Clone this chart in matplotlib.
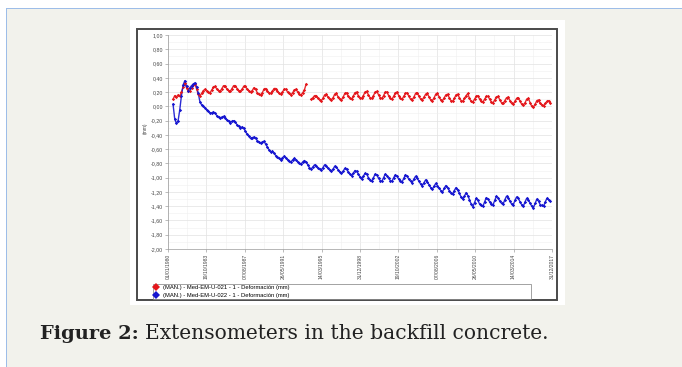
import matplotlib
matplotlib.use("Agg")
import matplotlib.pyplot as plt
import matplotlib.dates as mdates
from matplotlib.patches import Rectangle
from matplotlib.ticker import FixedLocator, MultipleLocator, FuncFormatter
import numpy as np
import pandas as pd

# ---- data (one value every two months) ----
dates = pd.date_range("1980-07-01", "2017-11-01", freq="2MS")

red_021 = [
    0.10, 0.15, 0.13,                          # 1980
    0.16, 0.14, 0.20, 0.27, 0.33, 0.26,        # 1981
    0.21, 0.22, 0.26, 0.30, 0.32, 0.24,        # 1982
    0.17, 0.15, 0.18, 0.22, 0.24, 0.21,        # 1983
    0.20, 0.19, 0.23, 0.27, 0.28, 0.24,        # 1984
    0.22, 0.21, 0.25, 0.29, 0.28, 0.24,        # 1985
    0.22, 0.21, 0.25, 0.29, 0.29, 0.25,        # 1986
    0.22, 0.21, 0.24, 0.28, 0.28, 0.24,        # 1987
    0.22, 0.20, 0.22, 0.26, 0.24, 0.19,        # 1988
    0.17, 0.16, 0.19, 0.24, 0.25, 0.21,        # 1989
    0.19, 0.18, 0.21, 0.25, 0.25, 0.21,        # 1990
    0.18, 0.17, 0.20, 0.24, 0.24, 0.20,        # 1991
    0.18, 0.16, 0.19, 0.23, 0.24, 0.20,        # 1992
    0.17, 0.16, 0.19, 0.23, 0.31, np.nan,      # 1993
    np.nan, 0.10, 0.12, 0.15, 0.15, 0.11,      # 1994
    0.09, 0.08, 0.11, 0.16, 0.17, 0.13,        # 1995
    0.10, 0.09, 0.12, 0.17, 0.18, 0.13,        # 1996
    0.10, 0.09, 0.13, 0.18, 0.19, 0.14,        # 1997
    0.11, 0.10, 0.14, 0.19, 0.20, 0.15,        # 1998
    0.12, 0.11, 0.15, 0.20, 0.21, 0.16,        # 1999
    0.12, 0.11, 0.15, 0.20, 0.21, 0.16,        # 2000
    0.12, 0.11, 0.15, 0.20, 0.20, 0.15,        # 2001
    0.11, 0.10, 0.14, 0.19, 0.20, 0.15,        # 2002
    0.11, 0.10, 0.14, 0.18, 0.19, 0.14,        # 2003
    0.10, 0.09, 0.13, 0.18, 0.19, 0.14,        # 2004
    0.10, 0.09, 0.13, 0.17, 0.18, 0.13,        # 2005
    0.09, 0.08, 0.12, 0.17, 0.18, 0.13,        # 2006
    0.09, 0.08, 0.12, 0.16, 0.17, 0.12,        # 2007
    0.08, 0.07, 0.11, 0.16, 0.17, 0.12,        # 2008
    0.08, 0.07, 0.11, 0.15, 0.18, 0.11,        # 2009
    0.07, 0.06, 0.10, 0.14, 0.15, 0.10,        # 2010
    0.07, 0.06, 0.10, 0.14, 0.14, 0.10,        # 2011
    0.06, 0.05, 0.09, 0.13, 0.14, 0.09,        # 2012
    0.05, 0.04, 0.08, 0.12, 0.13, 0.08,        # 2013
    0.04, 0.03, 0.07, 0.11, 0.12, 0.07,        # 2014
    0.03, 0.02, 0.05, 0.10, 0.11, 0.05,        # 2015
    0.00, -0.01, 0.03, 0.08, 0.09, 0.04,       # 2016
    0.02, 0.01, 0.04, 0.07, 0.08, 0.05,        # 2017
]

blue_022 = [
    0.03, -0.18, -0.24,                              # 1980
    -0.20, -0.05, 0.15, 0.30, 0.36, 0.28,            # 1981
    0.22, 0.26, 0.29, 0.31, 0.33, 0.27,              # 1982
    0.18, 0.06, 0.02, 0.00, -0.02, -0.05,            # 1983
    -0.07, -0.09, -0.09, -0.08, -0.10, -0.13,        # 1984
    -0.15, -0.17, -0.15, -0.14, -0.16, -0.19,        # 1985
    -0.21, -0.23, -0.21, -0.20, -0.22, -0.26,        # 1986
    -0.28, -0.30, -0.29, -0.31, -0.35, -0.39,        # 1987
    -0.42, -0.45, -0.44, -0.43, -0.45, -0.48,        # 1988
    -0.50, -0.52, -0.50, -0.49, -0.53, -0.57,        # 1989
    -0.61, -0.64, -0.63, -0.66, -0.69, -0.71,        # 1990
    -0.73, -0.75, -0.72, -0.70, -0.72, -0.75,        # 1991
    -0.77, -0.78, -0.75, -0.73, -0.75, -0.78,        # 1992
    -0.80, -0.81, -0.78, -0.76, -0.78, -0.82,        # 1993
    -0.86, -0.88, -0.85, -0.82, -0.83, -0.86,        # 1994
    -0.88, -0.89, -0.86, -0.82, -0.83, -0.87,        # 1995
    -0.89, -0.91, -0.88, -0.84, -0.85, -0.89,        # 1996
    -0.92, -0.94, -0.91, -0.87, -0.88, -0.92,        # 1997
    -0.95, -0.97, -0.94, -0.90, -0.91, -0.95,        # 1998
    -0.99, -1.02, -0.98, -0.94, -0.95, -1.00,        # 1999
    -1.03, -1.05, -1.00, -0.95, -0.96, -1.01,        # 2000
    -1.04, -1.05, -1.00, -0.95, -0.97, -1.01,        # 2001
    -1.04, -1.05, -1.00, -0.96, -0.98, -1.02,        # 2002
    -1.04, -1.06, -1.01, -0.96, -0.98, -1.02,        # 2003
    -1.05, -1.07, -1.02, -0.98, -1.01, -1.05,        # 2004
    -1.09, -1.11, -1.07, -1.03, -1.06, -1.10,        # 2005
    -1.14, -1.16, -1.12, -1.08, -1.11, -1.15,        # 2006
    -1.18, -1.20, -1.15, -1.11, -1.14, -1.18,        # 2007
    -1.21, -1.23, -1.18, -1.14, -1.17, -1.22,        # 2008
    -1.27, -1.30, -1.26, -1.21, -1.25, -1.31,        # 2009
    -1.37, -1.41, -1.35, -1.29, -1.32, -1.37,        # 2010
    -1.39, -1.40, -1.34, -1.28, -1.30, -1.34,        # 2011
    -1.37, -1.38, -1.32, -1.26, -1.28, -1.33,        # 2012
    -1.36, -1.37, -1.31, -1.26, -1.28, -1.33,        # 2013
    -1.37, -1.38, -1.32, -1.27, -1.29, -1.34,        # 2014
    -1.38, -1.40, -1.34, -1.29, -1.31, -1.36,        # 2015
    -1.40, -1.42, -1.36, -1.30, -1.33, -1.38,        # 2016
    -1.39, -1.40, -1.34, -1.29, -1.31, -1.33,        # 2017
]

series_labels = [
    "(MAN.) - Med-EM-U-021 - 1 - Deformación (mm)",
    "(MAN.) - Med-EM-U-022 - 1 - Deformación (mm)",
]
x_tick_labels = ["01/01/1980", "19/10/1983", "07/08/1987", "26/05/1991",
                 "14/03/1995", "31/12/1998", "19/10/2002", "07/08/2006",
                 "26/05/2010", "14/03/2014", "31/12/2017"]
y_min, y_max = -2.0, 1.0

W, H = 682, 367
BG = "#f2f2ec"
RED = "#e4161b"
BLUE = "#1515d0"

fig = plt.figure(figsize=(W / 100, H / 100), dpi=100)
fig.patch.set_facecolor("white")


def px_rect(x0, y0, x1, y1, **kw):
    """Rectangle given in image pixels (origin top-left)."""
    r = Rectangle((x0 / W, 1 - y1 / H), (x1 - x0) / W, (y1 - y0) / H,
                  transform=fig.transFigure, **kw)
    fig.patches.append(r)
    return r


# page background, blue rule, white panel, dark frame
px_rect(6, 8, W + 2, H + 2, facecolor=BG, edgecolor="none", zorder=0)
px_rect(6, 8, W + 2, 9.2, facecolor="#9dbde8", edgecolor="none", zorder=1)
px_rect(6, 8, 7.2, H + 2, facecolor="#9dbde8", edgecolor="none", zorder=1)
px_rect(130, 20, 565, 305, facecolor="white", edgecolor="none", zorder=1)
px_rect(137, 28.5, 556.5, 300, facecolor="white", edgecolor="#4a4a4a",
        linewidth=1.4, zorder=2)

ax = fig.add_axes([168 / W, 1 - 249 / H, 384 / W, 214 / H], zorder=3)
ax.set_facecolor("white")

tick_dates = pd.to_datetime(x_tick_labels, dayfirst=True)
ax.set_xlim(tick_dates[0], tick_dates[-1])
ax.set_ylim(y_min, y_max)

ax.xaxis.set_major_locator(FixedLocator(mdates.date2num(tick_dates)))
ax.set_xticklabels(x_tick_labels, rotation=90, fontsize=3.6, color="#444444",
                   family="Liberation Sans")
mid = mdates.date2num(tick_dates[:-1]) + np.diff(mdates.date2num(tick_dates)) / 2
ax.xaxis.set_minor_locator(FixedLocator(mid))
ax.yaxis.set_major_locator(MultipleLocator(0.2))
ax.yaxis.set_minor_locator(MultipleLocator(0.1))
ax.yaxis.set_major_formatter(FuncFormatter(lambda v, p: f"{v:.2f}".replace(".", ",")))
for lab in ax.get_yticklabels():
    lab.set_fontsize(3.8)
    lab.set_color("#444444")
    lab.set_family("Liberation Sans")
ax.tick_params(axis="both", which="major", length=2, width=0.4, color="#888888", pad=1.5)
ax.tick_params(axis="both", which="minor", length=0)

ax.grid(True, which="major", color="#e2e2e2", linewidth=0.5)
ax.grid(True, which="minor", color="#efefef", linewidth=0.4)
ax.set_axisbelow(True)
for s in ax.spines.values():
    s.set_color("#9a9a9a")
    s.set_linewidth(0.5)
    s.set_linestyle((0, (1, 1)))
ax.spines["top"].set_visible(False)
ax.spines["right"].set_visible(False)

# connecting lines, then the diamond markers
ax.plot(dates, red_021, color=RED, linewidth=1.0, alpha=0.9, zorder=3)
ax.plot(dates, blue_022, color=BLUE, linewidth=1.0, alpha=0.9, zorder=3)
h_red, = ax.plot(dates, red_021, ls="none", marker="D", markersize=1.7,
                 color=RED, markeredgewidth=0, label=series_labels[0], zorder=4)
h_blue, = ax.plot(dates, blue_022, ls="none", marker="D", markersize=1.7,
                  color=BLUE, markeredgewidth=0, label=series_labels[1], zorder=4)

fig.text(145 / W, 1 - 128 / H, "(mm)", rotation=90, fontsize=3.6,
         color="#444444", ha="center", va="center", family="Liberation Sans")

leg = fig.legend(handles=[h_red, h_blue], loc="upper left",
                 bbox_to_anchor=(150 / W, 1 - 297 / H, 384 / W, 16 / H),
                 mode="expand", frameon=True, fancybox=False,
                 borderpad=0.25, labelspacing=0.35, handlelength=0.6,
                 handletextpad=0.9, markerscale=2.2,
                 prop={"family": "Liberation Sans", "size": 4.2})
leg.get_frame().set_edgecolor("#777777")
leg.get_frame().set_linewidth(0.6)
leg.set_zorder(5)

# caption
cap_y = 1 - 339 / H
t1 = fig.text(40 / W, cap_y, "Figure 2:", fontsize=14, fontweight="bold",
              family="DejaVu Serif", color="#222222", va="baseline", zorder=5)
fig.canvas.draw()
bb = t1.get_window_extent()
fig.text((bb.x1 + 6) / W, cap_y, "Extensometers in the backfill concrete.",
         fontsize=14.6, family="DejaVu Serif", color="#222222", va="baseline",
         zorder=5)

fig.savefig("out.png", dpi=100, facecolor=fig.get_facecolor())
plt.close(fig)
